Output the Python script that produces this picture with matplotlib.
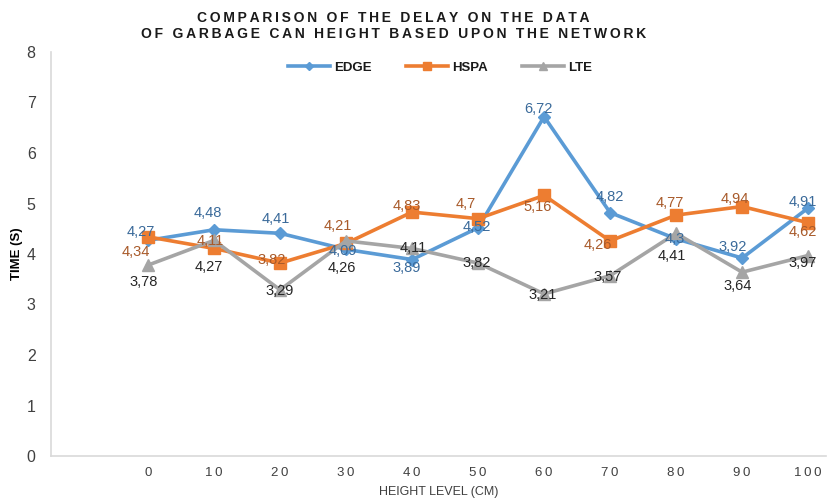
import numpy as np
import matplotlib
matplotlib.use('Agg')
import matplotlib.pyplot as plt

plt.rcParams['font.family'] = ['Liberation Sans', 'DejaVu Sans']

# data
heights = [0, 10, 20, 30, 40, 50, 60, 70, 80, 90, 100]
edge = [4.27, 4.48, 4.41, 4.09, 3.89, 4.52, 6.72, 4.82, 4.3, 3.92, 4.91]
hspa = [4.34, 4.11, 3.82, 4.21, 4.83, 4.7, 5.16, 4.26, 4.77, 4.94, 4.62]
lte = [3.78, 4.27, 3.29, 4.26, 4.11, 3.82, 3.21, 3.57, 4.41, 3.64, 3.97]
series_names = ['EDGE', 'HSPA', 'LTE']
title_lines = ['COMPARISON OF THE DELAY ON THE DATA',
               'OF GARBAGE CAN HEIGHT BASED UPON THE NETWORK']

# label offsets in pixels (dx, dy up), like the Excel label placement
edge_off = [(-7, 8), (-6, 17), (-4, 14), (-3, -2), (-5, -8), (-1, 1),
            (-6, 8), (0, 16), (-1, 0), (-9, 11), (-5, 6)]
hspa_off = [(-12, -15), (-4, 7), (-8, 3), (-8, 17), (-5, 6), (-12, 15),
            (-6, -12), (-12, -4), (-6, 12), (-7, 8), (-5, -9)]
lte_off = [(-4, -17), (-5, -27), (0, -1), (-4, -27), (1, 0), (-1, 0),
           (-1, -1), (-2, -1), (-4, -23), (-4, -14), (-5, -7)]

styles = [
    dict(color='#5B9BD5', marker='D', ms=6, lab='#3A6A9A', off=edge_off, data=edge),
    dict(color='#ED7D31', marker='s', ms=9, lab='#A85A2A', off=hspa_off, data=hspa),
    dict(color='#A5A5A5', marker='^', ms=9, lab='#262626', off=lte_off, data=lte),
]

def spaced(s, sep='\u200a'):
    return sep.join(s)

fig = plt.figure(figsize=(8.27, 5.0), dpi=100)
ax = fig.add_axes([0.0617, 0.088, 0.937, 0.808])

x = np.arange(len(heights))
for name, st in zip(series_names, styles):
    ax.plot(x, st['data'], color=st['color'], lw=2.6, marker=st['marker'],
            ms=st['ms'], label=name, zorder=3)
    for xi, v, (dx, dy) in zip(x, st['data'], st['off']):
        ax.annotate(f'{v:g}'.replace('.', ','), (xi, v), xytext=(dx, dy),
                    textcoords='offset pixels', ha='center', va='center',
                    fontsize=10.5, color=st['lab'], zorder=4)

ax.set_xlim(-1.47, 10.27)
ax.set_ylim(0, 8)
ax.set_xticks(x)
ax.set_xticklabels([spaced(str(h), '\u2009') for h in heights], fontsize=9.5,
                   color='#404040')
ax.set_yticks(range(0, 9))
ax.tick_params(axis='y', labelsize=11.5, labelcolor='#404040', length=0, pad=11)
ax.tick_params(axis='x', length=0, pad=8)

for side in ['top', 'right']:
    ax.spines[side].set_visible(False)
for side in ['left', 'bottom']:
    ax.spines[side].set_color('#D9D9D9')
    ax.spines[side].set_linewidth(1.2)

ax.set_ylabel('TIME (S)', fontsize=9.5, fontweight='bold')
ax.yaxis.set_label_coords(-0.036, 0.5)
ax.set_xlabel('HEIGHT LEVEL (CM)', fontsize=9, color='#404040')
ax.xaxis.set_label_coords(0.5, -0.074)

fig.text(0.476, 0.965, spaced(title_lines[0], '\u2009'), ha='center', va='center',
         fontsize=10, fontweight='bold', color='#1A1A1A')
fig.text(0.476, 0.933, spaced(title_lines[1], '\u2009'), ha='center', va='center',
         fontsize=10, fontweight='bold', color='#1A1A1A')

leg = fig.legend(loc='center', bbox_to_anchor=(0.532, 0.865), ncol=3, frameon=False,
                 handlelength=3.2, columnspacing=2.6, handletextpad=0.3,
                 prop={'size': 9.5, 'weight': 'bold'}, markerscale=0.7)
for t in leg.get_texts():
    t.set_color('#1A1A1A')

fig.savefig('out.png', dpi=100, facecolor='white')
